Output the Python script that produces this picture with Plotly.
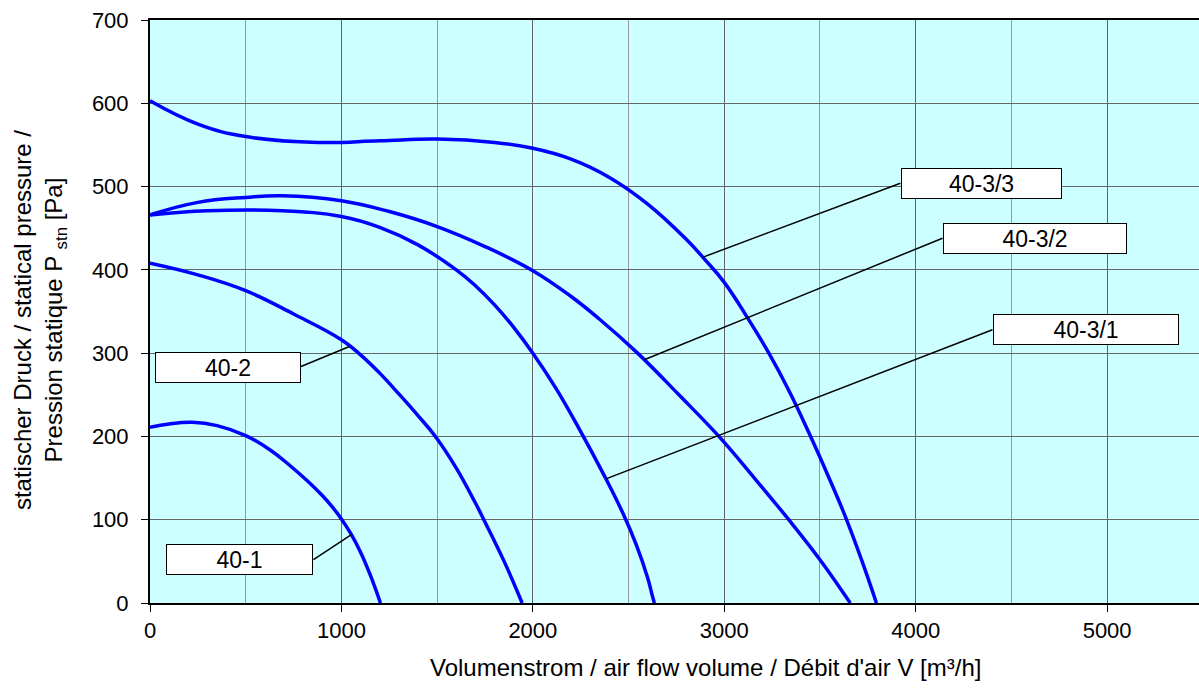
import plotly.graph_objects as go

# fan curves: air flow [m3/h] vs static pressure [Pa]
flow_40_1 = [0, 100, 221, 350, 500, 626, 726, 820, 900, 950, 1000, 1050, 1100, 1150, 1204]
pres_40_1 = [211, 215, 217, 213, 201, 184, 166, 147, 129, 116, 101, 83, 61, 34, 0]

flow_40_2 = [0, 250, 500, 750, 1000, 1100, 1200, 1300, 1400, 1491, 1600, 1700, 1744, 1850, 1944]
pres_40_2 = [408, 394, 375, 347, 316, 298, 276, 251, 225, 200, 162, 120, 100, 50, 0]

flow_40_3_1 = [0, 300, 690, 1000, 1200, 1400, 1600, 1700, 1800, 1900, 2000, 2120, 2240, 2382, 2470, 2540, 2600, 2625, 2635]
pres_40_3_1 = [466, 471, 471, 464, 451, 430, 400, 381, 358, 331, 300, 258, 210, 149, 108, 70, 30, 8, 0]

flow_40_3_2 = [0, 250, 500, 690, 1000, 1250, 1500, 1750, 2000, 2200, 2347, 2547, 2763, 2972, 3150, 3337, 3500, 3658]
pres_40_3_2 = [466, 481, 487, 489, 483, 470, 452, 428, 399, 368, 341, 300, 250, 200, 152, 100, 52, 0]

flow_40_3_3 = [0, 250, 500, 877, 1200, 1500, 1800, 2000, 2200, 2400, 2600, 2800, 2900, 3000, 3120, 3233, 3340, 3441, 3540, 3632, 3720, 3795]
pres_40_3_3 = [603, 575, 560, 553, 555, 557, 553, 546, 533, 511, 479, 437, 412, 385, 343, 300, 254, 205, 154, 104, 50, 0]

curves = [
    (flow_40_1, pres_40_1),
    (flow_40_2, pres_40_2),
    (flow_40_3_1, pres_40_3_1),
    (flow_40_3_2, pres_40_3_2),
    (flow_40_3_3, pres_40_3_3),
]

# label boxes: text, box centre (flow, pressure), box width px, leader start/end
label_text = ["40-1", "40-2", "40-3/1", "40-3/2", "40-3/3"]
label_x = [469, 409, 4888, 4622, 4343]
label_y = [52, 283, 328, 438, 504]
label_w = [147, 146, 186, 184, 161]
leader_from = [(854, 52), (789, 284), (4401, 328), (4140, 438), (3920, 504)]
leader_to = [(1052, 82), (1042, 308), (2382, 149), (2582, 292), (2886, 415)]

fig = go.Figure()
for fx, py in curves:
    fig.add_trace(go.Scatter(x=fx, y=py, mode='lines',
                             line=dict(color='#0000FF', width=3.5, shape='spline', smoothing=1.2),
                             showlegend=False, hoverinfo='skip'))

for (x0, y0), (x1, y1) in zip(leader_from, leader_to):
    fig.add_shape(type='line', x0=x0, y0=y0, x1=x1, y1=y1, xref='x', yref='y',
                  line=dict(color='black', width=1.5), layer='above')

for t, lx, ly, w in zip(label_text, label_x, label_y, label_w):
    fig.add_annotation(x=lx, y=ly, text=t, showarrow=False,
                       width=w - 2, height=29, bgcolor='white',
                       bordercolor='black', borderwidth=1, borderpad=0,
                       font=dict(size=23, color='black'))

# axis titles (placed as annotations, they sit off-centre in the original)
fig.add_annotation(xref='paper', yref='paper', x=0.530, y=-0.111,
                   text="Volumenstrom / air flow volume / Débit d'air V [m³/h]",
                   showarrow=False, xanchor='center', yanchor='middle',
                   font=dict(size=24, color='black'))
fig.add_annotation(xref='paper', yref='paper', x=-0.105, y=0.485,
                   text="statischer Druck / statical pressure /<br>Pression statique P <sub>stn</sub> [Pa]",
                   showarrow=False, textangle=-90, xanchor='center', yanchor='middle',
                   font=dict(size=24, color='black'))

fig.update_layout(
    width=1199, height=688,
    margin=dict(l=150, r=0, t=20, b=85),
    paper_bgcolor='white',
    plot_bgcolor='#CCFFFF',
    font=dict(family='Liberation Sans, Arial, sans-serif', size=22, color='black'),
    xaxis=dict(range=[0, 5480], dtick=1000, tick0=0,
               showline=True, linecolor='black', linewidth=2, mirror=True,
               ticks='outside', ticklen=7, tickcolor='black', tickwidth=1,
               showgrid=True, gridcolor='#666666', gridwidth=1, zeroline=False,
               minor=dict(dtick=500, showgrid=True, gridcolor='#999999', gridwidth=1)),
    yaxis=dict(range=[0, 700], dtick=100, tick0=0,
               showline=True, linecolor='black', linewidth=2,
               ticks='outside', ticklen=7, tickcolor='black', tickwidth=1,
               ticklabelstandoff=8,
               showgrid=True, gridcolor='#666666', gridwidth=1, zeroline=False),
)

# drop the browser's default body margin so the figure sits at the page origin
fig.write_html("out.html", config={'displayModeBar': False},
               post_script="document.body.style.margin='0';document.body.style.overflow='hidden';")
